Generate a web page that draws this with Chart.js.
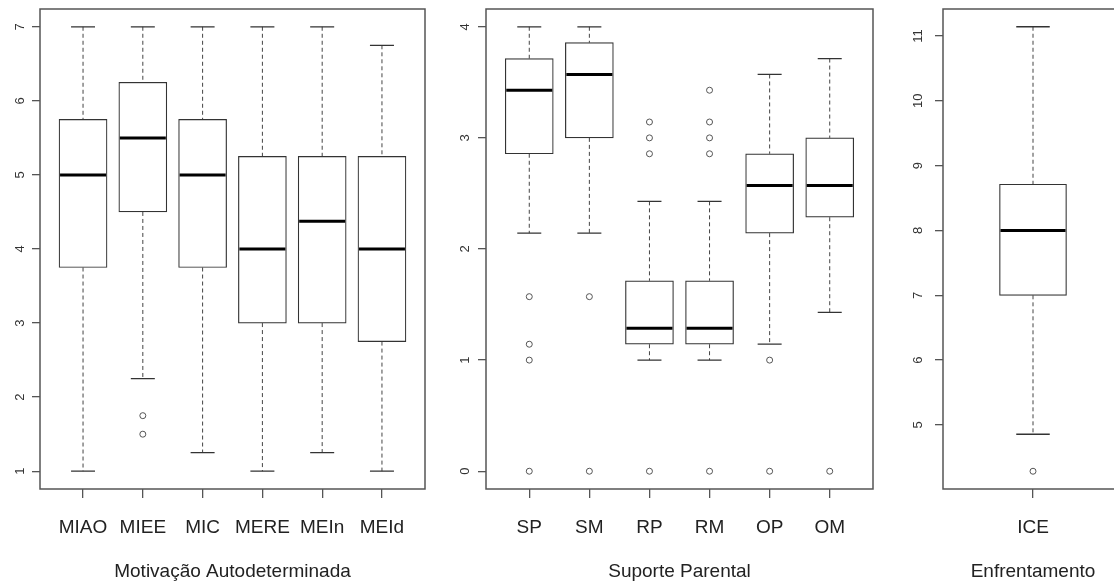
<!DOCTYPE html>
<html>
<head>
<meta charset="utf-8">
<script src="https://cdn.jsdelivr.net/npm/chart.js@4.4.1/dist/chart.umd.min.js"></script>
<style>
  html, body { margin: 0; padding: 0; background: #fff; overflow: hidden; }
  #wrap { position: relative; width: 1114px; height: 583px; overflow: hidden; }
  canvas { position: absolute; top: 0; }
</style>
</head>
<body>
<div id="wrap">
  <canvas id="motiv" width="455" height="583" style="left:0"></canvas>
  <canvas id="suporte" width="455" height="583" style="left:455px"></canvas>
  <canvas id="enfr" width="230" height="583" style="left:910px"></canvas>
</div>
<script>
// Motivação Autodeterminada
const motivLabels = ['MIAO', 'MIEE', 'MIC', 'MERE', 'MEIn', 'MEId'];
const motivLow  = [1, 2.25, 1.25, 1, 1.25, 1];
const motivQ1   = [3.75, 4.5, 3.75, 3, 3, 2.75];
const motivMed  = [5, 5.5, 5, 4, 4.375, 4];
const motivQ3   = [5.75, 6.25, 5.75, 5.25, 5.25, 5.25];
const motivHigh = [7, 7, 7, 7, 7, 6.75];
const motivOut  = [[], [1.75, 1.5], [], [], [], []];
const motivTicks = [1, 2, 3, 4, 5, 6, 7];

// Suporte Parental (scores come in sevenths)
const supLabels = ['SP', 'SM', 'RP', 'RM', 'OP', 'OM'];
const supLow  = [2.143, 2.143, 1, 1, 1.143, 1.429];
const supQ1   = [2.857, 3, 1.143, 1.143, 2.143, 2.286];
const supMed  = [3.429, 3.571, 1.286, 1.286, 2.571, 2.571];
const supQ3   = [3.714, 3.857, 1.714, 1.714, 2.857, 3];
const supHigh = [4, 4, 2.429, 2.429, 3.571, 3.714];
const supOut  = [[1.571, 1.143, 1, 0], [1.571, 0], [3.143, 3, 2.857, 0], [3.429, 3.143, 3, 2.857, 0], [1, 0], [0]];
const supTicks = [0, 1, 2, 3, 4];

// Enfrentamento
const enfLabels = ['ICE'];
const enfLow  = [4.857];
const enfQ1   = [7];
const enfMed  = [8];
const enfQ3   = [8.714];
const enfHigh = [11.143];
const enfOut  = [[4.286]];
const enfTicks = [5, 6, 7, 8, 9, 10, 11];

const FONT = "'Liberation Sans', Arial, sans-serif";

// whiskers, medians, frame and rotated y labels, R style
function rBox(p) {
  return {
    id: 'rbox',
    beforeDatasetsDraw(chart) {
      const { ctx, scales: { x, y } } = chart;
      const cap = p.box / 4;
      ctx.save();
      p.low.forEach((lo, i) => {
        const px = x.getPixelForValue(i + 1);
        ctx.strokeStyle = '#444';
        ctx.lineWidth = 1;
        ctx.setLineDash([4, 3]);
        ctx.beginPath();
        ctx.moveTo(px, y.getPixelForValue(p.high[i]));
        ctx.lineTo(px, y.getPixelForValue(p.q3[i]));
        ctx.moveTo(px, y.getPixelForValue(p.q1[i]));
        ctx.lineTo(px, y.getPixelForValue(lo));
        ctx.stroke();
        ctx.setLineDash([]);
        ctx.strokeStyle = '#333';
        ctx.lineWidth = 1.3;
        ctx.beginPath();
        ctx.moveTo(px - cap, y.getPixelForValue(p.high[i]));
        ctx.lineTo(px + cap, y.getPixelForValue(p.high[i]));
        ctx.moveTo(px - cap, y.getPixelForValue(lo));
        ctx.lineTo(px + cap, y.getPixelForValue(lo));
        ctx.stroke();
      });
      ctx.restore();
    },
    afterDatasetsDraw(chart) {
      const { ctx, chartArea: a, scales: { x, y } } = chart;
      const half = p.box / 2;
      ctx.save();
      ctx.strokeStyle = '#000';
      ctx.lineWidth = 3;
      p.med.forEach((m, i) => {
        const px = x.getPixelForValue(i + 1);
        const py = y.getPixelForValue(m);
        ctx.beginPath();
        ctx.moveTo(px - half + 1, py);
        ctx.lineTo(px + half - 1, py);
        ctx.stroke();
      });
      ctx.strokeStyle = '#555';
      ctx.lineWidth = 1.5;
      ctx.strokeRect(a.left, a.top, a.right - a.left, a.bottom - a.top);
      ctx.restore();
    },
    afterDraw(chart) {
      const { ctx, chartArea: a, scales: { y } } = chart;
      ctx.save();
      ctx.font = '13px ' + FONT;
      ctx.fillStyle = '#333';
      ctx.textAlign = 'center';
      ctx.textBaseline = 'middle';
      y.ticks.forEach(t => {
        ctx.save();
        ctx.translate(a.left - p.labelGap, y.getPixelForValue(t.value));
        ctx.rotate(-Math.PI / 2);
        ctx.fillText(String(t.value), 0, 0);
        ctx.restore();
      });
      ctx.restore();
    }
  };
}

function boxplot(canvasId, p) {
  const boxes = p.labels.map((_, i) => ({ x: i + 1, y: [p.q1[i], p.q3[i]] }));
  const outliers = [];
  p.out.forEach((vals, i) => vals.forEach(v => outliers.push({ x: i + 1, y: v })));

  new Chart(document.getElementById(canvasId), {
    type: 'bar',
    data: {
      datasets: [
        {
          data: boxes,
          backgroundColor: '#fff',
          borderColor: '#333',
          borderWidth: 1.2,
          borderSkipped: false,
          barThickness: p.box
        },
        {
          type: 'scatter',
          data: outliers,
          pointStyle: 'circle',
          pointRadius: 3,
          borderWidth: 1,
          borderColor: '#555',
          backgroundColor: 'rgba(0,0,0,0)'
        }
      ]
    },
    options: {
      responsive: false,
      animation: false,
      layout: { padding: { top: 9, left: 0, right: p.padRight, bottom: 0 } },
      plugins: { legend: { display: false }, tooltip: { enabled: false } },
      scales: {
        x: {
          type: 'linear',
          min: p.xMin,
          max: p.xMax,
          bounds: 'data',
          offset: false,
          afterBuildTicks: s => { s.ticks = p.labels.map((_, i) => ({ value: i + 1 })); },
          afterFit: s => { s.height = 94; },
          ticks: {
            autoSkip: false,
            maxRotation: 0,
            padding: 18,
            color: '#222',
            font: { family: FONT, size: 19 },
            callback: (v, i) => p.labels[i]
          },
          grid: { display: true, offset: false, drawOnChartArea: false, drawTicks: true, tickLength: 9, color: '#555', lineWidth: 1.3 },
          border: { display: false },
          title: {
            display: true,
            text: p.title,
            color: '#222',
            font: { family: FONT, size: 19 },
            padding: { top: 0, bottom: 0 }
          }
        },
        y: {
          type: 'linear',
          min: p.yMin,
          max: p.yMax,
          bounds: 'data',
          beginAtZero: false,
          afterBuildTicks: s => { s.ticks = p.ticks.map(v => ({ value: v })); },
          afterFit: s => { s.width = p.left; },
          ticks: { display: false },
          grid: { display: true, drawOnChartArea: false, drawTicks: true, tickLength: 8, color: '#555', lineWidth: 1.3 },
          border: { display: false }
        }
      }
    },
    plugins: [rBox(p)]
  });
}

boxplot('motiv', {
  labels: motivLabels, low: motivLow, q1: motivQ1, med: motivMed, q3: motivQ3, high: motivHigh,
  out: motivOut, ticks: motivTicks, title: 'Motivação Autodeterminada',
  xMin: 0.28, xMax: 6.72, yMin: 0.76, yMax: 7.24,
  left: 40, padRight: 30, box: 48, labelGap: 20
});

boxplot('suporte', {
  labels: supLabels, low: supLow, q1: supQ1, med: supMed, q3: supQ3, high: supHigh,
  out: supOut, ticks: supTicks, title: 'Suporte Parental',
  xMin: 0.28, xMax: 6.72, yMin: -0.16, yMax: 4.16,
  left: 31, padRight: 37, box: 48, labelGap: 21
});

boxplot('enfr', {
  labels: enfLabels, low: enfLow, q1: enfQ1, med: enfMed, q3: enfQ3, high: enfHigh,
  out: enfOut, ticks: enfTicks, title: 'Enfrentamento',
  xMin: 0.46, xMax: 1.54, yMin: 4.012, yMax: 11.417,
  left: 33, padRight: 17, box: 67, labelGap: 25
});
</script>
</body>
</html>
